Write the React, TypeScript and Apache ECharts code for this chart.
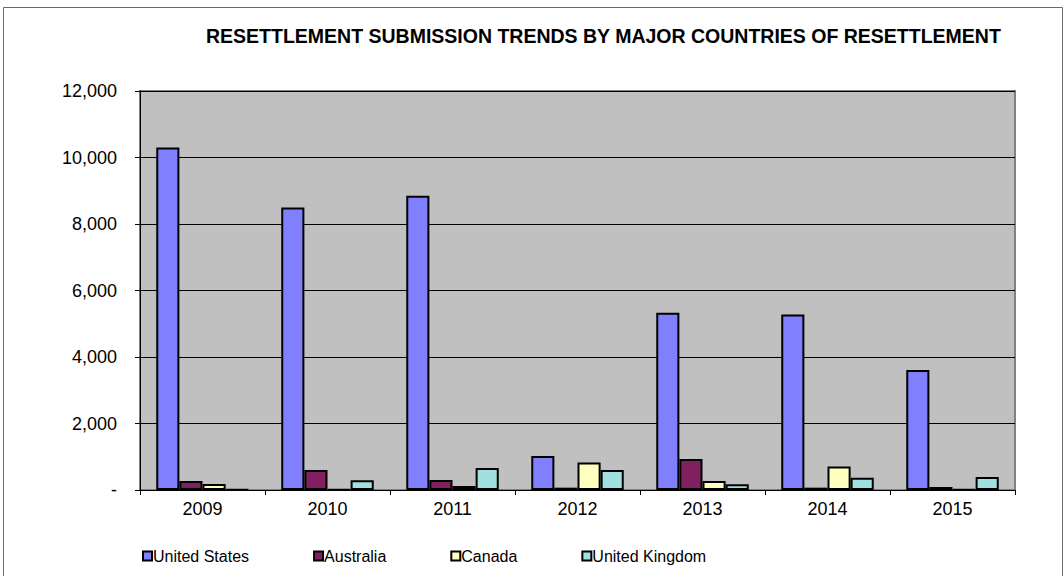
import React, { useEffect, useRef } from "react";
import * as echarts from "echarts";

const years = ["2009", "2010", "2011", "2012", "2013", "2014", "2015"];
const unitedStates = [10300, 8500, 8850, 1020, 5330, 5280, 3610];
const australia = [270, 600, 300, 70, 930, 70, 90];
const canada = [180, 20, 120, 830, 270, 710, 20];
const unitedKingdom = [20, 290, 660, 600, 170, 370, 390];
const seriesNames = ["United States", "Australia", "Canada", "United Kingdom"];
const seriesColors = ["#8080FF", "#802060", "#FFFFC0", "#A0E0E0"];
const titleText = "RESETTLEMENT SUBMISSION TRENDS BY MAJOR COUNTRIES OF RESETTLEMENT";

const FONT = "'Liberation Sans', Arial, sans-serif";

export default function App() {
  const ref = useRef<HTMLDivElement>(null);
  useEffect(() => {
    if (!ref.current) return;
    const chart = echarts.init(ref.current, null, { renderer: "svg" });
    const dataSets = [unitedStates, australia, canada, unitedKingdom];
    chart.setOption({
      animation: false,
      backgroundColor: "#FFFFFF",
      title: {
        text: titleText,
        left: 201,
        top: 21,
        textStyle: { fontFamily: FONT, fontSize: 19.5, fontWeight: "bold", color: "#000" },
      },
      graphic: [
        {
          type: "rect",
          shape: { x: 3.5, y: 7.5, width: 1059, height: 620 },
          style: { fill: "none", stroke: "#6a6a6a", lineWidth: 1 },
          silent: true,
          z: -1,
        },
      ],
      legend: {
        left: 137,
        top: 543,
        itemWidth: 9,
        itemHeight: 9,
        itemGap: 64,
        icon: "rect",
        textStyle: { fontFamily: FONT, fontSize: 16, color: "#000", padding: [0, 0, 0, -4] },
        data: seriesNames,
      },
      grid: {
        left: 140,
        right: 49,
        top: 91,
        bottom: 86,
        show: true,
        backgroundColor: "#C0C0C0",
        borderColor: "#808080",
        borderWidth: 2,
      },
      xAxis: {
        type: "category",
        data: years,
        boundaryGap: true,
        axisLine: { show: true, lineStyle: { color: "#000", width: 1 } },
        axisTick: { show: true, length: 5, lineStyle: { color: "#000" } },
        axisLabel: { margin: 10, fontFamily: FONT, fontSize: 18, color: "#000" },
        splitLine: { show: false },
      },
      yAxis: {
        type: "value",
        min: 0,
        max: 12000,
        interval: 2000,
        axisLine: { show: true, lineStyle: { color: "#000", width: 1 } },
        axisTick: { show: true, length: 5, inside: false, lineStyle: { color: "#000" } },
        axisLabel: {
          margin: 23,
          fontFamily: FONT,
          fontSize: 18,
          color: "#000",
          formatter: (v: number) => (v === 0 ? "-" : v.toLocaleString("en-US")),
        },
        splitLine: { show: true, lineStyle: { color: "#000", width: 1 } },
      },
      series: seriesNames.map((name, i) => ({
        name,
        type: "bar",
        data: dataSets[i],
        barGap: "0%",
        barCategoryGap: "26%",
        itemStyle: { color: seriesColors[i], borderColor: "#000", borderWidth: 2 },
        emphasis: { disabled: true },
      })),
    });
    return () => chart.dispose();
  }, []);
  return (
    <div
      ref={ref}
      style={{ position: "absolute", left: 0, top: 0, width: 1064, height: 576 }}
    />
  );
}
